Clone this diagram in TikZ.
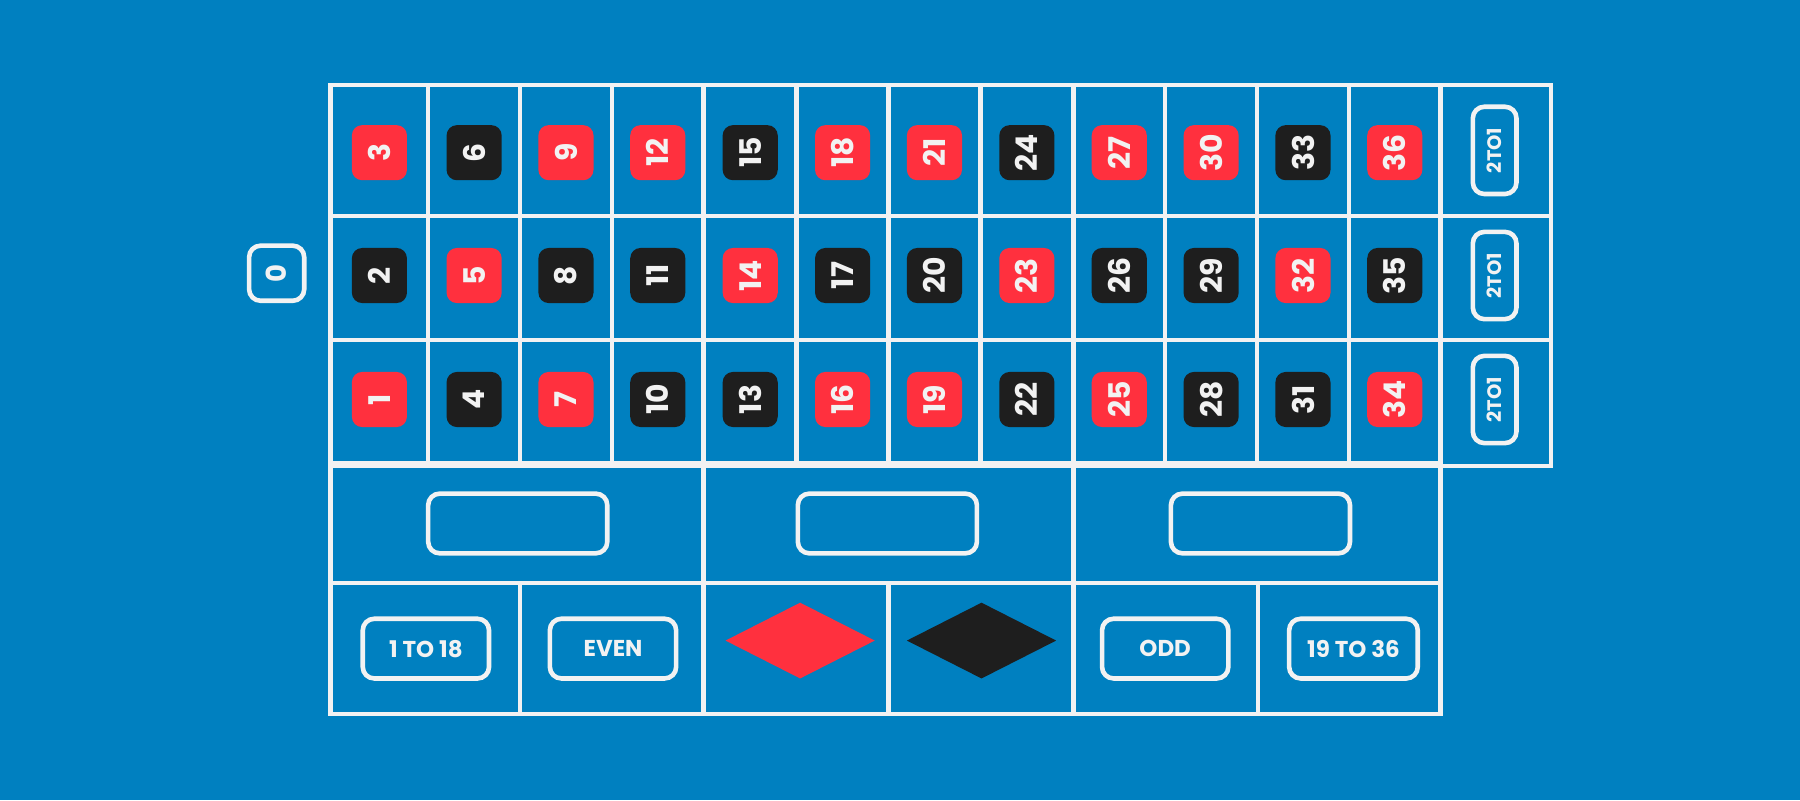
\documentclass[tikz,border=0pt]{standalone}
\usepackage{fontspec}
\setmainfont{Poppins}
\definecolor{bg}{HTML}{0080C0}
\definecolor{rd}{HTML}{FF303E}
\definecolor{bk}{HTML}{1E1E1E}
\definecolor{wh}{HTML}{F2F2F2}
\begin{document}
\begin{tikzpicture}[x=1pt,y=-1pt,
  grid/.style={draw=wh,line width=4pt},
  num/.style={minimum width=48pt,minimum height=48pt,rounded corners=9pt,text=wh,rotate=90,font=\fontsize{26}{26}\selectfont\bfseries,inner sep=0pt},
  R/.style={num,fill=rd},B/.style={num,fill=bk},
  obox/.style={draw=wh,line width=4pt,rounded corners=10pt,text=wh,inner sep=0pt,font=\fontsize{20}{20}\selectfont\bfseries}]
\fill[bg] (0,0) rectangle (1568,697);
\useasboundingbox (0,0) rectangle (1568,697);
% grid
\draw[grid] (288,74) rectangle (1351,406);
\draw[grid] (288,404) rectangle (1255,622);
\foreach \x in {373,453,533,613,694,774,854,935,1015,1095,1175,1255}
  \draw[grid] (\x,74) -- (\x,404);
\draw[grid] (288,188) -- (1351,188);
\draw[grid] (288,296) -- (1351,296);
\draw[grid] (288,508) -- (1255,508);
\foreach \x in {613,935} \draw[grid] (\x,404) -- (\x,622);
\foreach \x in {453,774,1096} \draw[grid] (\x,508) -- (\x,622);
% numbers
\def\cols{{330.5,413,493,573,653.5,734,814,894.5,975,1055,1135,1215}}
\foreach \n/\s [count=\i from 0] in {3/R,6/B,9/R,12/R,15/B,18/R,21/R,24/B,27/R,30/R,33/B,36/R}
  \node[\s] (t\n) at ({\cols[\i]},133) {\n};
\foreach \n/\s [count=\i from 0] in {2/B,5/R,8/B,11/B,14/R,17/B,20/B,23/R,26/B,29/B,32/R,35/B}
  \node[\s] (t\n) at ({\cols[\i]},240) {\n};
\foreach \n/\s [count=\i from 0] in {1/R,4/B,7/R,10/B,13/B,16/R,19/R,22/B,25/R,28/B,31/B,34/R}
  \node[\s] (t\n) at ({\cols[\i]},348) {\n};
% zero
\node[obox,minimum width=48pt,minimum height=48pt,rotate=90,font=\fontsize{24}{24}\selectfont\bfseries] (zero) at (241,238) {0};
% 2to1
\foreach \y/\k in {131/a,240/b,348/c}
  \node[obox,rotate=90,minimum width=76pt,minimum height=38pt,font=\fontsize{17}{17}\selectfont\bfseries] (col\k) at (1302,\y) {2TO1};
% dozens
\foreach \x/\k in {451/a,773/b,1098/c}
  \node[obox,minimum width=156pt,minimum height=52pt] (doz\k) at (\x,456) {};
% bottom
\node[obox,minimum width=110pt,minimum height=52pt] (low) at (371,565) {1 TO 18};
\node[obox,minimum width=110pt,minimum height=52pt] (even) at (534,565) {EVEN};
\node[obox,minimum width=110pt,minimum height=52pt] (odd) at (1015,565) {ODD};
\node[obox,minimum width=112pt,minimum height=52pt] (high) at (1179,565) {19 TO 36};
\fill[rd] (632,558) -- (697,525) -- (762,558) -- (697,591) -- cycle;
\fill[bk] (790,558) -- (855,525) -- (920,558) -- (855,591) -- cycle;
\end{tikzpicture}
\end{document}
